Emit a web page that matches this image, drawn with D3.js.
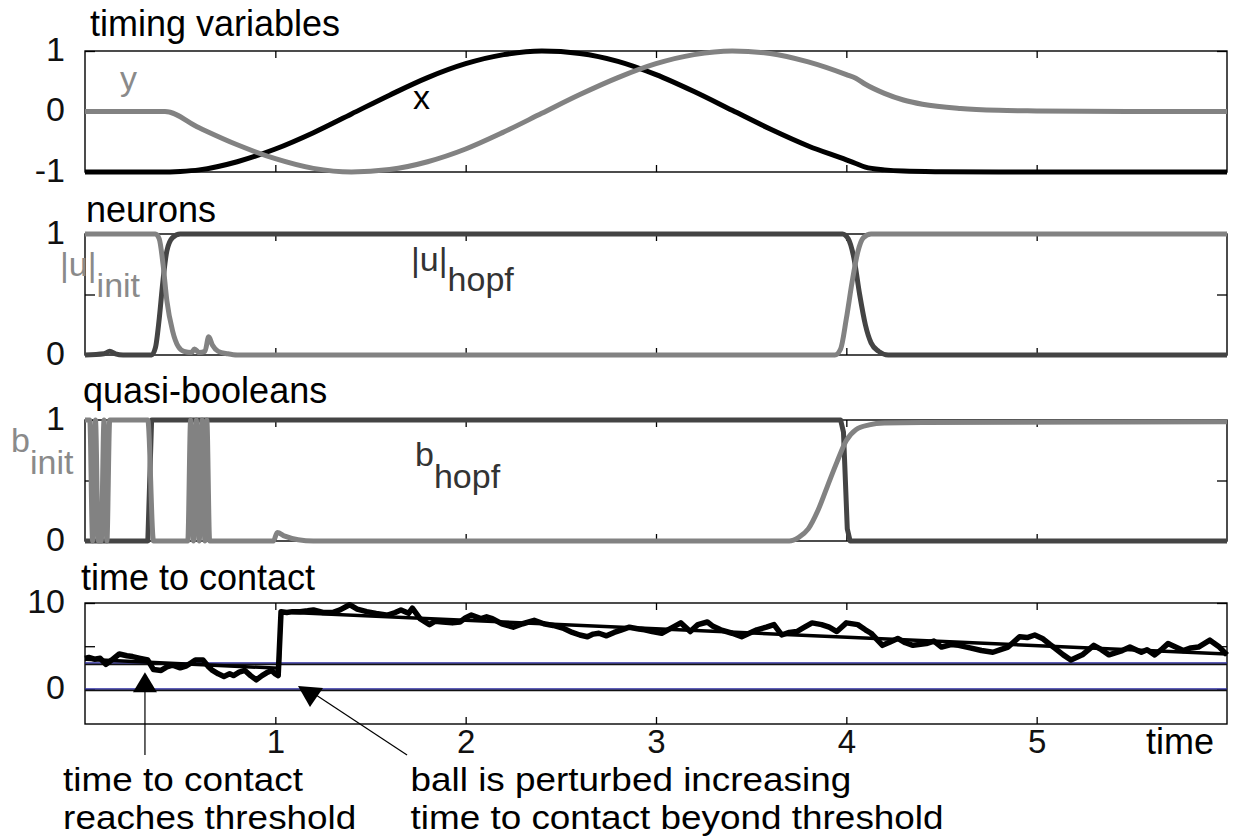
<!DOCTYPE html>
<html><head><meta charset="utf-8">
<script src="https://cdn.jsdelivr.net/npm/d3@7"></script>
<style>
body{margin:0;background:#fff}
svg{display:block}
text{font-family:'Liberation Sans',Arial,Helvetica,sans-serif}
</style>
</head><body>
<svg id="c" width="1233" height="836"></svg>
<script>
// ---------------- data ----------------
const timeDomain = [0, 6];
const timeTicks = [1, 2, 3, 4, 5];
const timeTickLabels = ["1", "2", "3", "4", "5"];

const timingTicks = [-1, 0, 1];
const timingTickLabels = ["-1", "0", "1"];
const unitTicks = [0, 0.5, 1];
const unitTickLabels = ["0", "", "1"];
const ttcTicks = [0, 5, 10];
const ttcTickLabels = ["0", "", "10"];

const panelTitles = ["timing variables", "neurons", "quasi-booleans", "time to contact"];

// timing variables
const timingX = [[0,-1],[0.2,-1],[0.4,-1],[0.5,-0.99],[0.6,-0.965],[0.8,-0.83],[1.0,-0.62],[1.2,-0.35],[1.4,-0.04],[1.6,0.27],[1.8,0.56],[2.0,0.79],[2.2,0.94],[2.4,1.0],[2.6,0.96],[2.8,0.83],[3.0,0.61],[3.2,0.33],[3.4,0.02],[3.6,-0.29],[3.8,-0.57],[4.0,-0.8],[4.05,-0.86],[4.1,-0.92],[4.2,-0.965],[4.3,-0.985],[4.5,-0.995],[4.8,-1],[5.4,-1],[6,-1]];
const timingY = [[0,0],[0.2,0],[0.42,0],[0.6,-0.27],[0.8,-0.55],[1.0,-0.78],[1.2,-0.94],[1.4,-1.0],[1.6,-0.96],[1.8,-0.83],[2.0,-0.62],[2.2,-0.34],[2.4,-0.03],[2.6,0.28],[2.8,0.56],[3.0,0.79],[3.2,0.94],[3.4,1.0],[3.6,0.96],[3.8,0.82],[4.0,0.61],[4.05,0.55],[4.1,0.45],[4.2,0.3],[4.3,0.19],[4.4,0.12],[4.6,0.05],[4.8,0.02],[5.0,0.01],[5.5,0],[6,0]];

// neurons
const uHopf = [[0,0],[0.1,0.01],[0.13,0.03],[0.16,0.01],[0.2,0],[0.35,0],[0.37,0.06],[0.39,0.3],[0.41,0.62],[0.43,0.86],[0.46,0.97],[0.5,1],[3.98,1],[4.01,0.96],[4.04,0.8],[4.07,0.5],[4.10,0.25],[4.13,0.1],[4.17,0.03],[4.22,0],[6,0]];
const uInit = [[0,1],[0.37,1],[0.39,0.96],[0.41,0.75],[0.43,0.45],[0.46,0.2],[0.49,0.07],[0.52,0.03],[0.56,0.02],[0.575,0.05],[0.6,0.02],[0.63,0.03],[0.65,0.15],[0.67,0.08],[0.7,0.03],[0.75,0.01],[0.8,0],[3.94,0],[3.97,0.05],[4.0,0.3],[4.03,0.6],[4.06,0.85],[4.09,0.97],[4.13,1],[6,1]];

// quasi-booleans
const bHopf = [[0,0],[0.33,0],[0.35,1],[3.97,1],[3.985,0.9],[3.995,0.5],[4.005,0.1],[4.02,0],[6,0]];
const bInit = [[0,1],[0.025,1],[0.04,0],[0.055,1],[0.07,0],[0.085,0],[0.1,1],[0.115,0],[0.13,1],[0.33,1],[0.36,0],[0.54,0],[0.555,1],[0.57,0],[0.585,1],[0.6,0],[0.615,1],[0.63,0],[0.64,1],[0.655,0],[0.99,0],[1.01,0.07],[1.05,0.04],[1.12,0.01],[1.2,0],[3.7,0],[3.75,0.03],[3.8,0.1],[3.85,0.25],[3.9,0.45],[3.95,0.65],[4.0,0.83],[4.05,0.92],[4.12,0.96],[4.2,0.975],[4.4,0.98],[6,0.985]];

// time to contact
const ttcNoisy = [[0.0,3.6],[0.02,3.7],[0.05,3.5],[0.08,3.6],[0.11,2.9],[0.14,3.4],[0.18,4.1],[0.22,3.9],[0.25,3.8],[0.29,3.6],[0.33,3.4],[0.36,2.3],[0.40,2.2],[0.43,2.6],[0.46,2.8],[0.50,2.5],[0.53,2.7],[0.56,3.1],[0.58,3.4],[0.62,3.4],[0.65,2.6],[0.67,2.2],[0.70,1.8],[0.73,1.5],[0.76,1.8],[0.78,1.6],[0.81,2.0],[0.84,2.2],[0.87,1.6],[0.90,1.1],[0.93,1.6],[0.96,2.0],[0.98,2.2],[1.00,1.8],[1.015,1.6],[1.03,9.0],[1.06,8.9],[1.09,9.0],[1.13,9.0],[1.17,9.1],[1.2,9.2],[1.25,8.9],[1.30,8.9],[1.34,9.2],[1.39,9.8],[1.43,9.3],[1.48,9.0],[1.53,8.8],[1.59,8.6],[1.63,8.9],[1.66,9.2],[1.70,8.8],[1.72,9.4],[1.76,8.2],[1.81,7.5],[1.84,7.9],[1.88,7.8],[1.93,7.7],[1.97,7.8],[2.00,8.3],[2.03,8.6],[2.08,8.2],[2.11,8.4],[2.14,8.2],[2.19,7.6],[2.25,7.2],[2.30,7.6],[2.36,8.0],[2.41,7.6],[2.46,7.4],[2.51,7.1],[2.56,6.6],[2.60,6.3],[2.64,6.1],[2.67,6.4],[2.70,6.5],[2.74,6.2],[2.78,6.6],[2.82,6.9],[2.86,7.2],[2.91,7.0],[2.94,6.9],[2.98,6.7],[3.03,6.5],[3.08,7.1],[3.13,7.7],[3.18,6.7],[3.22,7.5],[3.27,7.8],[3.30,7.3],[3.34,6.9],[3.40,6.5],[3.45,6.1],[3.49,6.5],[3.53,6.9],[3.58,7.2],[3.62,7.5],[3.66,6.3],[3.70,6.6],[3.74,6.7],[3.78,7.2],[3.82,7.7],[3.87,7.5],[3.91,7.2],[3.95,6.7],[4.00,7.7],[4.06,7.5],[4.10,6.9],[4.13,6.5],[4.19,5.1],[4.23,5.5],[4.27,5.9],[4.31,5.4],[4.35,5.1],[4.42,5.3],[4.46,5.6],[4.50,4.9],[4.55,5.2],[4.59,5.1],[4.65,4.8],[4.71,4.5],[4.77,4.3],[4.81,4.6],[4.85,4.9],[4.91,6.1],[4.95,6.0],[4.99,6.3],[5.03,5.9],[5.07,5.2],[5.10,4.7],[5.14,4.0],[5.18,3.4],[5.24,4.0],[5.30,5.1],[5.34,4.6],[5.38,4.0],[5.45,4.5],[5.49,4.9],[5.55,4.3],[5.58,4.6],[5.62,4.0],[5.66,4.7],[5.69,5.3],[5.73,4.9],[5.77,4.5],[5.81,4.8],[5.85,4.9],[5.91,5.7],[5.96,4.9],[6.00,4.0]];
const ttcTrend = [[0,3.5],[1.02,2.45],[1.03,8.95],[6,4.1]];
const ttcThreshold = 3;
const ttcZero = 0;

// annotations (data coords of the time-to-contact panel)
const annotTexts = [["time to contact", "reaches threshold"], ["ball is perturbed increasing", "time to contact beyond threshold"]];
const annotTextTime = [-0.115, 1.71];
const arrowTail = [[0.315, -7.6], [1.692, -7.6]];
const arrowEnd = [[0.315, 1.5], [1.19, -0.3]];
const arrowTip = [[0.315, 2.0], [1.182, -2.04]];

// ---------------- drawing ----------------
const svg = d3.select("#c");
const FONT = 36;
const x = d3.scaleLinear().domain(timeDomain).range([85, 1227]);

const layout = [
  {top: 51, bottom: 172, domain: [-1, 1], ticks: timingTicks, tlabels: timingTickLabels, titleX: 90, titleY: 36},
  {top: 234, bottom: 355, domain: [0, 1], ticks: unitTicks, tlabels: unitTickLabels, titleX: 86, titleY: 222},
  {top: 420, bottom: 541, domain: [0, 1], ticks: unitTicks, tlabels: unitTickLabels, titleX: 83, titleY: 403},
  {top: 603, bottom: 724, domain: [-4, 10], ticks: ttcTicks, tlabels: ttcTickLabels, titleX: 81, titleY: 590}
];
const ys = layout.map(p => d3.scaleLinear().domain(p.domain).range([p.bottom, p.top]));

const GRAY = "#828282", DARK = "#444444";

function line(scaleY, curve) {
  return d3.line().x(d => x(d[0])).y(d => scaleY(d[1])).curve(curve || d3.curveLinear);
}

layout.forEach((p, i) => {
  const y = ys[i];
  const g = svg.append("g");
  g.append("text").attr("x", p.titleX).attr("y", p.titleY).attr("font-size", FONT).attr("fill", "#000").text(panelTitles[i]);
  g.append("rect").attr("x", x(timeDomain[0])).attr("y", p.top)
    .attr("width", x(timeDomain[1]) - x(timeDomain[0])).attr("height", p.bottom - p.top)
    .attr("fill", "none").attr("stroke", "#000").attr("stroke-width", 1.4);
  const fmt = d => { const k = p.ticks.indexOf(d); return k >= 0 ? p.tlabels[k] : ""; };
  const left = g.append("g").attr("transform", `translate(${x(timeDomain[0])},0)`)
    .call(d3.axisLeft(y).tickValues(p.ticks).tickSize(-10).tickPadding(20).tickFormat(fmt));
  const right = g.append("g").attr("transform", `translate(${x(timeDomain[1])},0)`)
    .call(d3.axisRight(y).tickValues(p.ticks).tickSize(-10).tickFormat(""));
  const top = g.append("g").attr("transform", `translate(0,${p.top})`)
    .call(d3.axisTop(x).tickValues(timeTicks).tickSize(-7).tickFormat(""));
  const bottom = g.append("g").attr("transform", `translate(0,${p.bottom})`)
    .call(d3.axisBottom(x).tickValues(timeTicks).tickSize(-7).tickPadding(5)
      .tickFormat(i === 3 ? (d => timeTickLabels[timeTicks.indexOf(d)]) : ""));
  [left, right, top, bottom].forEach(a => {
    a.select(".domain").remove();
    a.selectAll(".tick line").attr("stroke", "#000").attr("stroke-width", 1.3);
    a.selectAll("text").attr("font-size", 34).attr("fill", "#111")
      .attr("font-family", "'Liberation Sans',Arial,sans-serif");
  });
  left.selectAll("text").attr("dy", "0.27em");
  bottom.selectAll("text").attr("font-size", 33).attr("dy", "0.72em");
});

// "time" axis label
svg.append("text").attr("x", 1214).attr("y", 754).attr("text-anchor", "end")
  .attr("font-size", FONT).attr("fill", "#000").text("time");

// panel 1 curves
const g1 = svg.append("g");
g1.append("path").datum(timingX).attr("d", line(ys[0], d3.curveMonotoneX))
  .attr("fill", "none").attr("stroke", "#000").attr("stroke-width", 5);
g1.append("path").datum(timingY).attr("d", line(ys[0], d3.curveMonotoneX))
  .attr("fill", "none").attr("stroke", GRAY).attr("stroke-width", 5);

// panel 2 curves
const g2 = svg.append("g");
g2.append("path").datum(uHopf).attr("d", line(ys[1], d3.curveMonotoneX))
  .attr("fill", "none").attr("stroke", DARK).attr("stroke-width", 5);
g2.append("path").datum(uInit).attr("d", line(ys[1], d3.curveMonotoneX))
  .attr("fill", "none").attr("stroke", GRAY).attr("stroke-width", 5);

// panel 3 curves
const g3 = svg.append("g");
g3.append("path").datum(bHopf).attr("d", line(ys[2]))
  .attr("fill", "none").attr("stroke", DARK).attr("stroke-width", 5).attr("stroke-linejoin", "round");
g3.append("path").datum(bInit).attr("d", line(ys[2], d3.curveMonotoneX))
  .attr("fill", "none").attr("stroke", GRAY).attr("stroke-width", 5).attr("stroke-linejoin", "round");

// panel 4 curves
const g4 = svg.append("g");
[ttcThreshold, ttcZero].forEach(v => {
  g4.append("line").attr("x1", x(timeDomain[0])).attr("x2", x(timeDomain[1]))
    .attr("y1", ys[3](v) + 0.8).attr("y2", ys[3](v) + 0.8).attr("stroke", "#111").attr("stroke-width", 2);
  g4.append("line").attr("x1", x(timeDomain[0])).attr("x2", x(timeDomain[1]))
    .attr("y1", ys[3](v) - 0.6).attr("y2", ys[3](v) - 0.6).attr("stroke", "#2a2aa0").attr("stroke-width", 1.2);
});
g4.append("path").datum(ttcTrend).attr("d", line(ys[3]))
  .attr("fill", "none").attr("stroke", "#000").attr("stroke-width", 3.5);
g4.append("path").datum(ttcNoisy).attr("d", line(ys[3]))
  .attr("fill", "none").attr("stroke", "#000").attr("stroke-width", 5.5).attr("stroke-linejoin", "round");

// series labels with subscripts
const seriesLabels = [
  {tx: 120, ty: 90, main: "y", sub: "", color: "#8a8a8a"},
  {tx: 413, ty: 109, main: "x", sub: "", color: "#000"},
  {tx: 60, ty: 276, main: "|u|", sub: "init", dy: 21, color: "#8a8a8a"},
  {tx: 411, ty: 271, main: "|u|", sub: "hopf", dy: 20, color: "#333"},
  {tx: 11, ty: 452, main: "b", sub: "init", dy: 22, color: "#8a8a8a"},
  {tx: 415, ty: 466, main: "b", sub: "hopf", dy: 22, color: "#333"}
];
seriesLabels.forEach(l => {
  const t = svg.append("text").attr("x", l.tx).attr("y", l.ty).attr("font-size", 34).attr("fill", l.color);
  t.append("tspan").text(l.main);
  if (l.sub) t.append("tspan").attr("dy", l.dy).text(l.sub);
});

// annotations: one text per line, slightly stretched horizontally like the reference font
const ga = svg.append("g");
const annotBaselines = [791, 829];
annotTexts.forEach((lines, i) => {
  lines.forEach((s, k) => {
    ga.append("text")
      .attr("transform", `translate(${x(annotTextTime[i])},${annotBaselines[k]}) scale(1.085,1)`)
      .attr("x", 0).attr("y", 0).attr("font-size", 34).attr("fill", "#000").text(s);
  });
});
const y4 = ys[3];
arrowTail.forEach((a, i) => {
  ga.append("line").attr("x1", x(a[0])).attr("y1", y4(a[1]))
    .attr("x2", x(arrowEnd[i][0])).attr("y2", y4(arrowEnd[i][1]))
    .attr("stroke", "#000").attr("stroke-width", 1.2);
});
const tip1 = [x(arrowTip[0][0]), y4(arrowTip[0][1])];
ga.append("path").attr("d", `M${tip1[0]},${tip1[1]} L${tip1[0] - 12},${tip1[1] + 20} L${tip1[0] + 12},${tip1[1] + 20} Z`).attr("fill", "#000");
const tip2 = [x(arrowTip[1][0]), y4(arrowTip[1][1])];
ga.append("path").attr("d", `M${tip2[0]},${tip2[1]} L${tip2[0] - 12},${tip2[1] - 21} L${tip2[0] + 13},${tip2[1] - 19} Z`).attr("fill", "#000");
</script>
</body></html>
